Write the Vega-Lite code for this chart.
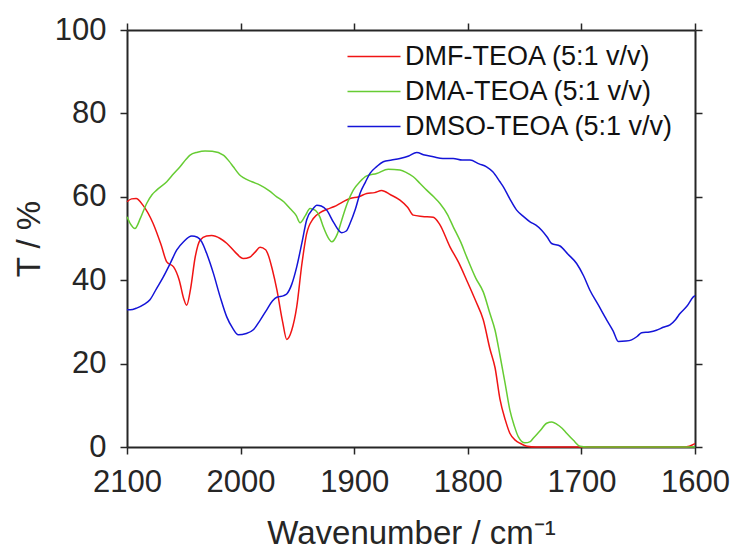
{
"$schema": "https://vega.github.io/schema/vega-lite/v6.json",
"width": 568, "height": 417,
"autosize": {"type": "none"},
"padding": {"left": 127, "top": 30, "right": 36, "bottom": 103},
"background": "white",
"config": {"view": {"stroke": null}, "font": "Liberation Sans"},
"datasets": {
"ir": [
{"s":"DMF-TEOA (5:1 v/v)","x":2100,"y":58.8},{"s":"DMF-TEOA (5:1 v/v)","x":2096,"y":59.5},{"s":"DMF-TEOA (5:1 v/v)","x":2092,"y":59.6},{"s":"DMF-TEOA (5:1 v/v)","x":2086,"y":58},{"s":"DMF-TEOA (5:1 v/v)","x":2077,"y":53.6},{"s":"DMF-TEOA (5:1 v/v)","x":2070,"y":48.5},{"s":"DMF-TEOA (5:1 v/v)","x":2065,"y":44.4},{"s":"DMF-TEOA (5:1 v/v)","x":2059,"y":43.2},{"s":"DMF-TEOA (5:1 v/v)","x":2054,"y":40},{"s":"DMF-TEOA (5:1 v/v)","x":2050,"y":35.5},{"s":"DMF-TEOA (5:1 v/v)","x":2047.5,"y":34},{"s":"DMF-TEOA (5:1 v/v)","x":2044,"y":38},{"s":"DMF-TEOA (5:1 v/v)","x":2040,"y":45.5},{"s":"DMF-TEOA (5:1 v/v)","x":2035.7,"y":49.6},{"s":"DMF-TEOA (5:1 v/v)","x":2030,"y":50.6},{"s":"DMF-TEOA (5:1 v/v)","x":2025.5,"y":50.7},{"s":"DMF-TEOA (5:1 v/v)","x":2018,"y":50},{"s":"DMF-TEOA (5:1 v/v)","x":2012,"y":48.8},{"s":"DMF-TEOA (5:1 v/v)","x":2005,"y":46.8},{"s":"DMF-TEOA (5:1 v/v)","x":1997.6,"y":45.2},{"s":"DMF-TEOA (5:1 v/v)","x":1992,"y":45.5},{"s":"DMF-TEOA (5:1 v/v)","x":1987,"y":46.8},{"s":"DMF-TEOA (5:1 v/v)","x":1982.9,"y":47.9},{"s":"DMF-TEOA (5:1 v/v)","x":1978,"y":47.3},{"s":"DMF-TEOA (5:1 v/v)","x":1975.6,"y":46},{"s":"DMF-TEOA (5:1 v/v)","x":1972,"y":42.5},{"s":"DMF-TEOA (5:1 v/v)","x":1968,"y":37.6},{"s":"DMF-TEOA (5:1 v/v)","x":1963,"y":30},{"s":"DMF-TEOA (5:1 v/v)","x":1959.4,"y":25.8},{"s":"DMF-TEOA (5:1 v/v)","x":1955,"y":28},{"s":"DMF-TEOA (5:1 v/v)","x":1950.6,"y":33.6},{"s":"DMF-TEOA (5:1 v/v)","x":1946,"y":44},{"s":"DMF-TEOA (5:1 v/v)","x":1942,"y":51},{"s":"DMF-TEOA (5:1 v/v)","x":1936,"y":54.8},{"s":"DMF-TEOA (5:1 v/v)","x":1930,"y":56.2},{"s":"DMF-TEOA (5:1 v/v)","x":1924,"y":57},{"s":"DMF-TEOA (5:1 v/v)","x":1918,"y":57.6},{"s":"DMF-TEOA (5:1 v/v)","x":1910,"y":58.8},{"s":"DMF-TEOA (5:1 v/v)","x":1903.7,"y":59.6},{"s":"DMF-TEOA (5:1 v/v)","x":1896,"y":60},{"s":"DMF-TEOA (5:1 v/v)","x":1889,"y":60.8},{"s":"DMF-TEOA (5:1 v/v)","x":1882,"y":61},{"s":"DMF-TEOA (5:1 v/v)","x":1875.8,"y":61.5},{"s":"DMF-TEOA (5:1 v/v)","x":1868,"y":60.5},{"s":"DMF-TEOA (5:1 v/v)","x":1859.7,"y":59.2},{"s":"DMF-TEOA (5:1 v/v)","x":1853,"y":57.5},{"s":"DMF-TEOA (5:1 v/v)","x":1848,"y":55.6},{"s":"DMF-TEOA (5:1 v/v)","x":1840,"y":55.3},{"s":"DMF-TEOA (5:1 v/v)","x":1830.4,"y":55.1},{"s":"DMF-TEOA (5:1 v/v)","x":1825,"y":53.5},{"s":"DMF-TEOA (5:1 v/v)","x":1815.7,"y":48},{"s":"DMF-TEOA (5:1 v/v)","x":1808,"y":44.2},{"s":"DMF-TEOA (5:1 v/v)","x":1801,"y":40},{"s":"DMF-TEOA (5:1 v/v)","x":1793,"y":35},{"s":"DMF-TEOA (5:1 v/v)","x":1786.4,"y":30.5},{"s":"DMF-TEOA (5:1 v/v)","x":1780.5,"y":23.5},{"s":"DMF-TEOA (5:1 v/v)","x":1776,"y":19},{"s":"DMF-TEOA (5:1 v/v)","x":1771.7,"y":11.5},{"s":"DMF-TEOA (5:1 v/v)","x":1767,"y":6.5},{"s":"DMF-TEOA (5:1 v/v)","x":1763,"y":3.3},{"s":"DMF-TEOA (5:1 v/v)","x":1758,"y":1.6},{"s":"DMF-TEOA (5:1 v/v)","x":1754,"y":0.9},{"s":"DMF-TEOA (5:1 v/v)","x":1748,"y":0.2},{"s":"DMF-TEOA (5:1 v/v)","x":1740,"y":0},{"s":"DMF-TEOA (5:1 v/v)","x":1700,"y":0},{"s":"DMF-TEOA (5:1 v/v)","x":1650,"y":0},{"s":"DMF-TEOA (5:1 v/v)","x":1610,"y":0},{"s":"DMF-TEOA (5:1 v/v)","x":1605,"y":0.2},{"s":"DMF-TEOA (5:1 v/v)","x":1600,"y":0.8},
{"s":"DMA-TEOA (5:1 v/v)","x":2100,"y":55.2},{"s":"DMA-TEOA (5:1 v/v)","x":2097,"y":53.5},{"s":"DMA-TEOA (5:1 v/v)","x":2093,"y":52.4},{"s":"DMA-TEOA (5:1 v/v)","x":2088,"y":55},{"s":"DMA-TEOA (5:1 v/v)","x":2082.7,"y":58.4},{"s":"DMA-TEOA (5:1 v/v)","x":2078,"y":60.5},{"s":"DMA-TEOA (5:1 v/v)","x":2073.9,"y":61.6},{"s":"DMA-TEOA (5:1 v/v)","x":2065,"y":63.6},{"s":"DMA-TEOA (5:1 v/v)","x":2059,"y":65.5},{"s":"DMA-TEOA (5:1 v/v)","x":2053.3,"y":67.2},{"s":"DMA-TEOA (5:1 v/v)","x":2048,"y":69},{"s":"DMA-TEOA (5:1 v/v)","x":2044.5,"y":70},{"s":"DMA-TEOA (5:1 v/v)","x":2038,"y":70.7},{"s":"DMA-TEOA (5:1 v/v)","x":2031.3,"y":71},{"s":"DMA-TEOA (5:1 v/v)","x":2025,"y":70.9},{"s":"DMA-TEOA (5:1 v/v)","x":2015.2,"y":70},{"s":"DMA-TEOA (5:1 v/v)","x":2010,"y":68.5},{"s":"DMA-TEOA (5:1 v/v)","x":2006.4,"y":67.2},{"s":"DMA-TEOA (5:1 v/v)","x":2001,"y":65.3},{"s":"DMA-TEOA (5:1 v/v)","x":1997.6,"y":64.6},{"s":"DMA-TEOA (5:1 v/v)","x":1990,"y":63.6},{"s":"DMA-TEOA (5:1 v/v)","x":1982.9,"y":62.8},{"s":"DMA-TEOA (5:1 v/v)","x":1975,"y":61.5},{"s":"DMA-TEOA (5:1 v/v)","x":1968.2,"y":60},{"s":"DMA-TEOA (5:1 v/v)","x":1962,"y":58.8},{"s":"DMA-TEOA (5:1 v/v)","x":1956.5,"y":57.2},{"s":"DMA-TEOA (5:1 v/v)","x":1951,"y":55.5},{"s":"DMA-TEOA (5:1 v/v)","x":1947.7,"y":53.8},{"s":"DMA-TEOA (5:1 v/v)","x":1943,"y":55.5},{"s":"DMA-TEOA (5:1 v/v)","x":1938.9,"y":57.2},{"s":"DMA-TEOA (5:1 v/v)","x":1934.5,"y":56.8},{"s":"DMA-TEOA (5:1 v/v)","x":1930,"y":55},{"s":"DMA-TEOA (5:1 v/v)","x":1927.2,"y":52.8},{"s":"DMA-TEOA (5:1 v/v)","x":1922,"y":49.8},{"s":"DMA-TEOA (5:1 v/v)","x":1919.8,"y":49.2},{"s":"DMA-TEOA (5:1 v/v)","x":1915,"y":51},{"s":"DMA-TEOA (5:1 v/v)","x":1911,"y":54.4},{"s":"DMA-TEOA (5:1 v/v)","x":1906,"y":58.5},{"s":"DMA-TEOA (5:1 v/v)","x":1900.8,"y":61.6},{"s":"DMA-TEOA (5:1 v/v)","x":1895,"y":63.6},{"s":"DMA-TEOA (5:1 v/v)","x":1889,"y":65},{"s":"DMA-TEOA (5:1 v/v)","x":1880.2,"y":65.6},{"s":"DMA-TEOA (5:1 v/v)","x":1870,"y":66.6},{"s":"DMA-TEOA (5:1 v/v)","x":1859.7,"y":66.4},{"s":"DMA-TEOA (5:1 v/v)","x":1854,"y":65.8},{"s":"DMA-TEOA (5:1 v/v)","x":1848,"y":64.8},{"s":"DMA-TEOA (5:1 v/v)","x":1842,"y":63.2},{"s":"DMA-TEOA (5:1 v/v)","x":1836.2,"y":61.6},{"s":"DMA-TEOA (5:1 v/v)","x":1830,"y":60},{"s":"DMA-TEOA (5:1 v/v)","x":1824.5,"y":58.4},{"s":"DMA-TEOA (5:1 v/v)","x":1818,"y":55.8},{"s":"DMA-TEOA (5:1 v/v)","x":1812.8,"y":52.8},{"s":"DMA-TEOA (5:1 v/v)","x":1806,"y":49},{"s":"DMA-TEOA (5:1 v/v)","x":1801,"y":45.6},{"s":"DMA-TEOA (5:1 v/v)","x":1793,"y":40.5},{"s":"DMA-TEOA (5:1 v/v)","x":1786.4,"y":37.2},{"s":"DMA-TEOA (5:1 v/v)","x":1780.5,"y":32},{"s":"DMA-TEOA (5:1 v/v)","x":1776,"y":28},{"s":"DMA-TEOA (5:1 v/v)","x":1771.7,"y":22},{"s":"DMA-TEOA (5:1 v/v)","x":1767,"y":15},{"s":"DMA-TEOA (5:1 v/v)","x":1763,"y":8.9},{"s":"DMA-TEOA (5:1 v/v)","x":1759,"y":5},{"s":"DMA-TEOA (5:1 v/v)","x":1755.6,"y":2.5},{"s":"DMA-TEOA (5:1 v/v)","x":1749.7,"y":1},{"s":"DMA-TEOA (5:1 v/v)","x":1745,"y":1.3},{"s":"DMA-TEOA (5:1 v/v)","x":1742.4,"y":2.1},{"s":"DMA-TEOA (5:1 v/v)","x":1736,"y":4},{"s":"DMA-TEOA (5:1 v/v)","x":1730.6,"y":5.7},{"s":"DMA-TEOA (5:1 v/v)","x":1726,"y":6},{"s":"DMA-TEOA (5:1 v/v)","x":1721.8,"y":5.5},{"s":"DMA-TEOA (5:1 v/v)","x":1717,"y":4.5},{"s":"DMA-TEOA (5:1 v/v)","x":1713,"y":3.3},{"s":"DMA-TEOA (5:1 v/v)","x":1707,"y":1.6},{"s":"DMA-TEOA (5:1 v/v)","x":1701.3,"y":0.2},{"s":"DMA-TEOA (5:1 v/v)","x":1695,"y":0},{"s":"DMA-TEOA (5:1 v/v)","x":1650,"y":0},{"s":"DMA-TEOA (5:1 v/v)","x":1600,"y":0},
{"s":"DMSO-TEOA (5:1 v/v)","x":2100,"y":32.9},{"s":"DMSO-TEOA (5:1 v/v)","x":2095,"y":33},{"s":"DMSO-TEOA (5:1 v/v)","x":2091.5,"y":33.3},{"s":"DMSO-TEOA (5:1 v/v)","x":2085,"y":34.2},{"s":"DMSO-TEOA (5:1 v/v)","x":2079.8,"y":35.3},{"s":"DMSO-TEOA (5:1 v/v)","x":2074,"y":38},{"s":"DMSO-TEOA (5:1 v/v)","x":2068,"y":40.8},{"s":"DMSO-TEOA (5:1 v/v)","x":2062,"y":44},{"s":"DMSO-TEOA (5:1 v/v)","x":2056.3,"y":47.2},{"s":"DMSO-TEOA (5:1 v/v)","x":2050,"y":49.3},{"s":"DMSO-TEOA (5:1 v/v)","x":2043,"y":50.6},{"s":"DMSO-TEOA (5:1 v/v)","x":2038,"y":50.3},{"s":"DMSO-TEOA (5:1 v/v)","x":2034.2,"y":49.2},{"s":"DMSO-TEOA (5:1 v/v)","x":2030,"y":46.5},{"s":"DMSO-TEOA (5:1 v/v)","x":2024,"y":41.7},{"s":"DMSO-TEOA (5:1 v/v)","x":2018,"y":36},{"s":"DMSO-TEOA (5:1 v/v)","x":2012.2,"y":31.2},{"s":"DMSO-TEOA (5:1 v/v)","x":2007,"y":28.5},{"s":"DMSO-TEOA (5:1 v/v)","x":2002,"y":26.9},{"s":"DMSO-TEOA (5:1 v/v)","x":1995,"y":27.2},{"s":"DMSO-TEOA (5:1 v/v)","x":1988.8,"y":28.1},{"s":"DMSO-TEOA (5:1 v/v)","x":1983,"y":30.3},{"s":"DMSO-TEOA (5:1 v/v)","x":1977,"y":32.9},{"s":"DMSO-TEOA (5:1 v/v)","x":1972,"y":35},{"s":"DMSO-TEOA (5:1 v/v)","x":1968.2,"y":35.9},{"s":"DMSO-TEOA (5:1 v/v)","x":1962,"y":36.3},{"s":"DMSO-TEOA (5:1 v/v)","x":1959.4,"y":36.7},{"s":"DMSO-TEOA (5:1 v/v)","x":1955,"y":39},{"s":"DMSO-TEOA (5:1 v/v)","x":1950.6,"y":43.2},{"s":"DMSO-TEOA (5:1 v/v)","x":1946,"y":49},{"s":"DMSO-TEOA (5:1 v/v)","x":1941.8,"y":54.5},{"s":"DMSO-TEOA (5:1 v/v)","x":1936,"y":57.2},{"s":"DMSO-TEOA (5:1 v/v)","x":1933,"y":58},{"s":"DMSO-TEOA (5:1 v/v)","x":1929,"y":57.8},{"s":"DMSO-TEOA (5:1 v/v)","x":1924.2,"y":56.8},{"s":"DMSO-TEOA (5:1 v/v)","x":1918,"y":53.8},{"s":"DMSO-TEOA (5:1 v/v)","x":1911,"y":51.4},{"s":"DMSO-TEOA (5:1 v/v)","x":1907,"y":51.8},{"s":"DMSO-TEOA (5:1 v/v)","x":1903.7,"y":53.6},{"s":"DMSO-TEOA (5:1 v/v)","x":1899,"y":57},{"s":"DMSO-TEOA (5:1 v/v)","x":1894.9,"y":60.8},{"s":"DMSO-TEOA (5:1 v/v)","x":1890,"y":63.6},{"s":"DMSO-TEOA (5:1 v/v)","x":1886.1,"y":65.6},{"s":"DMSO-TEOA (5:1 v/v)","x":1880,"y":67.3},{"s":"DMSO-TEOA (5:1 v/v)","x":1874.4,"y":68.4},{"s":"DMSO-TEOA (5:1 v/v)","x":1867,"y":68.8},{"s":"DMSO-TEOA (5:1 v/v)","x":1859.7,"y":69.2},{"s":"DMSO-TEOA (5:1 v/v)","x":1852,"y":69.8},{"s":"DMSO-TEOA (5:1 v/v)","x":1845,"y":70.6},{"s":"DMSO-TEOA (5:1 v/v)","x":1838,"y":70},{"s":"DMSO-TEOA (5:1 v/v)","x":1830.4,"y":69.6},{"s":"DMSO-TEOA (5:1 v/v)","x":1822,"y":69.2},{"s":"DMSO-TEOA (5:1 v/v)","x":1812.8,"y":69.2},{"s":"DMSO-TEOA (5:1 v/v)","x":1805,"y":68.8},{"s":"DMSO-TEOA (5:1 v/v)","x":1798.1,"y":68.8},{"s":"DMSO-TEOA (5:1 v/v)","x":1790,"y":67.9},{"s":"DMSO-TEOA (5:1 v/v)","x":1783.5,"y":67.2},{"s":"DMSO-TEOA (5:1 v/v)","x":1778,"y":66},{"s":"DMSO-TEOA (5:1 v/v)","x":1771.7,"y":63.6},{"s":"DMSO-TEOA (5:1 v/v)","x":1768.7,"y":62.4},{"s":"DMSO-TEOA (5:1 v/v)","x":1763,"y":59.5},{"s":"DMSO-TEOA (5:1 v/v)","x":1757,"y":56.8},{"s":"DMSO-TEOA (5:1 v/v)","x":1751,"y":55.3},{"s":"DMSO-TEOA (5:1 v/v)","x":1745.2,"y":54},{"s":"DMSO-TEOA (5:1 v/v)","x":1740,"y":53.2},{"s":"DMSO-TEOA (5:1 v/v)","x":1735,"y":52},{"s":"DMSO-TEOA (5:1 v/v)","x":1730,"y":50.3},{"s":"DMSO-TEOA (5:1 v/v)","x":1726.2,"y":48.8},{"s":"DMSO-TEOA (5:1 v/v)","x":1718.8,"y":48.2},{"s":"DMSO-TEOA (5:1 v/v)","x":1712,"y":46.3},{"s":"DMSO-TEOA (5:1 v/v)","x":1704.2,"y":44},{"s":"DMSO-TEOA (5:1 v/v)","x":1698,"y":41},{"s":"DMSO-TEOA (5:1 v/v)","x":1692.5,"y":37.6},{"s":"DMSO-TEOA (5:1 v/v)","x":1685,"y":34},{"s":"DMSO-TEOA (5:1 v/v)","x":1677.8,"y":30.5},{"s":"DMSO-TEOA (5:1 v/v)","x":1672,"y":27.8},{"s":"DMSO-TEOA (5:1 v/v)","x":1667.5,"y":25.3},{"s":"DMSO-TEOA (5:1 v/v)","x":1661,"y":25.4},{"s":"DMSO-TEOA (5:1 v/v)","x":1655.8,"y":25.7},{"s":"DMSO-TEOA (5:1 v/v)","x":1651,"y":26.5},{"s":"DMSO-TEOA (5:1 v/v)","x":1647,"y":27.4},{"s":"DMSO-TEOA (5:1 v/v)","x":1640,"y":27.6},{"s":"DMSO-TEOA (5:1 v/v)","x":1634,"y":28},{"s":"DMSO-TEOA (5:1 v/v)","x":1628,"y":28.7},{"s":"DMSO-TEOA (5:1 v/v)","x":1622,"y":29.3},{"s":"DMSO-TEOA (5:1 v/v)","x":1617,"y":30.6},{"s":"DMSO-TEOA (5:1 v/v)","x":1613.2,"y":32},{"s":"DMSO-TEOA (5:1 v/v)","x":1607,"y":33.8},{"s":"DMSO-TEOA (5:1 v/v)","x":1601.5,"y":36},{"s":"DMSO-TEOA (5:1 v/v)","x":1600,"y":36.3}
]
},
"data": {"name": "ir"},
"layer": [
{
"mark": {"type": "line", "strokeWidth": 1.5, "interpolate": "monotone"},
"encoding": {
"x": {"field": "x", "type": "quantitative",
"scale": {"domain": [1600, 2100], "reverse": true, "nice": false, "zero": false},
"axis": {"orient": "bottom", "title": "Wavenumber / cm⁻¹", "values": [1600,1700,1800,1900,2000,2100], "format": "d",
"labelFlush": false, "labelOverlap": false, "labelBound": false,
"grid": false, "domainColor": "#262626", "domainWidth": 2, "tickColor": "#262626", "tickWidth": 1.5, "tickSize": 7,
"labelFontSize": 31, "labelColor": "#262626", "labelPadding": 13, "labelFont": "Liberation Sans",
"titleFontSize": 33, "titleFontWeight": "normal", "titleColor": "#262626", "titlePadding": 20, "titleFont": "Liberation Sans"}},
"y": {"field": "y", "type": "quantitative",
"scale": {"domain": [0, 100], "nice": false},
"axis": {"orient": "left", "title": "T / %", "values": [0,20,40,60,80,100],
"labelFlush": false, "labelOverlap": false, "labelBound": false,
"grid": false, "domainColor": "#262626", "domainWidth": 2, "tickColor": "#262626", "tickWidth": 1.5, "tickSize": 7,
"labelFontSize": 31, "labelColor": "#262626", "labelPadding": 14, "labelFont": "Liberation Sans",
"titleFontSize": 33, "titleFontWeight": "normal", "titleColor": "#262626", "titlePadding": 8, "titleFont": "Liberation Sans"}},
"color": {"field": "s", "type": "nominal",
"scale": {"domain": ["DMF-TEOA (5:1 v/v)", "DMA-TEOA (5:1 v/v)", "DMSO-TEOA (5:1 v/v)"], "range": ["#f01414", "#66cc33", "#1414d8"]},
"legend": {"orient": "none", "legendX": 250, "legendY": 13, "title": null, "symbolType": "M-4.3,0H1", "symbolSize": 400, "symbolStrokeWidth": 1.5,
"labelFontSize": 27, "labelFont": "Liberation Sans", "labelColor": "#111111", "labelOffset": 1, "labelLimit": 500, "rowPadding": 7, "padding": 0}}
}
},
{
"mark": {"type": "line", "opacity": 0},
"encoding": {
"x": {"field": "x", "type": "quantitative",
"axis": {"orient": "top", "title": null, "labels": false, "values": [1600,1700,1800,1900,2000,2100], "grid": false,
"domainColor": "#262626", "domainWidth": 2, "tickColor": "#262626", "tickWidth": 1.5, "tickSize": 7}},
"y": {"field": "y", "type": "quantitative",
"axis": {"orient": "right", "title": null, "labels": false, "values": [0,20,40,60,80,100], "grid": false,
"domainColor": "#262626", "domainWidth": 2, "tickColor": "#262626", "tickWidth": 1.5, "tickSize": 7}},
"detail": {"field": "s"}
}
}
],
"resolve": {"axis": {"x": "independent", "y": "independent"}}
}
